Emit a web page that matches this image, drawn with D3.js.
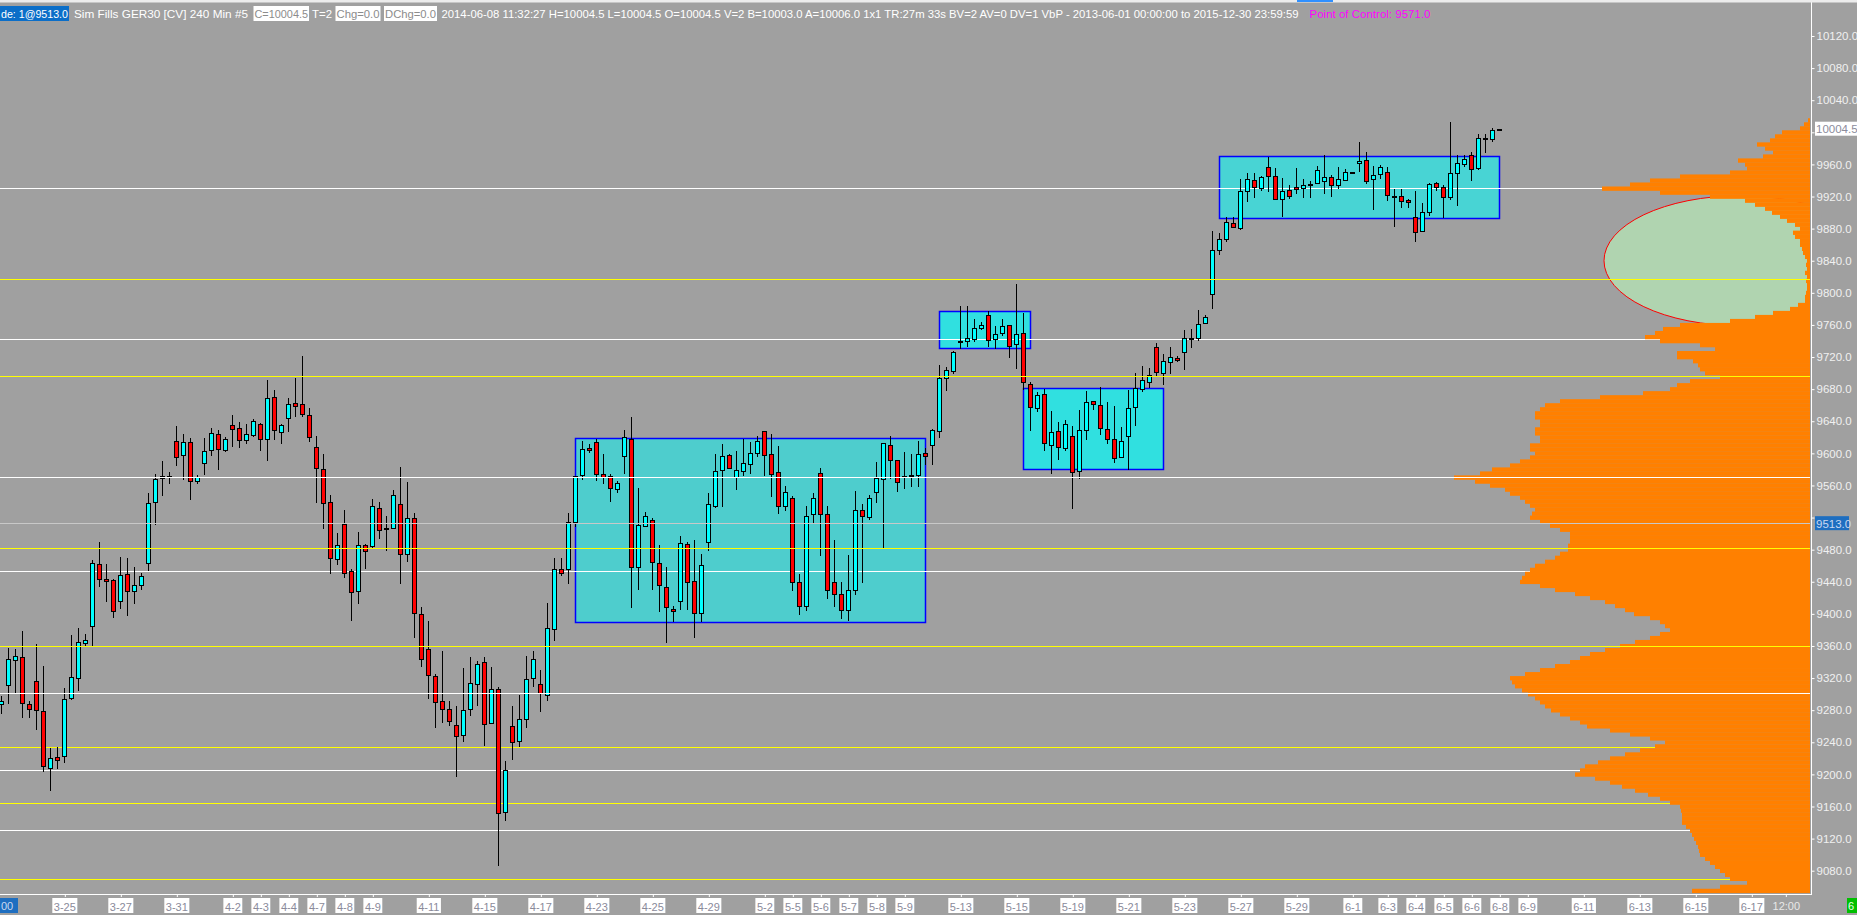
<!DOCTYPE html>
<html><head><meta charset="utf-8">
<script src="https://cdn.jsdelivr.net/npm/d3@7/dist/d3.min.js"></script>
<style>html,body{margin:0;padding:0;background:#a0a0a0;overflow:hidden}svg{display:block}</style>
</head><body>
<script>
// ---------------- DATA ----------------
const opens  = [9287.5,9311,9342,9346,9287.5,9316,9278.5,9208.5,9221.5,9223.5,9295,9319.5,9363.5,9385.5,9462,9443,9442,9416.5,9449.5,9428,9435.5,9463,9539,9569,9571.5,9615,9597.5,9614,9566,9587.5,9604,9624,9604,9635,9631.5,9616.5,9622.5,9636,9618.5,9670,9627,9643.5,9662.5,9661,9647.5,9608.5,9580,9539,9468,9511.5,9453,9428,9485.5,9484,9532.5,9506.5,9507,9536.5,9474,9519,9399.5,9356,9322.5,9291,9282,9261,9249,9282,9312.5,9340.5,9264,9306,9153,9260,9241,9268.5,9319.5,9312.5,9299.5,9381,9456.5,9456.5,9514,9573,9606.5,9614,9574,9571.5,9555.5,9596.5,9618.5,9459,9509,9517.5,9463,9434,9406.5,9415.5,9486.5,9440.5,9400.5,9490,9535,9579,9597.5,9570,9577.5,9586.5,9600,9627.5,9599,9576.5,9534,9544,9440,9410,9524,9575,9524,9440,9425,9405,9430,9529,9520.5,9551.5,9567.5,9611,9591.5,9572,9573.5,9572.5,9600,9611,9627.5,9694.5,9702,9740.5,9739.5,9742,9756,9772,9742,9749.5,9759.5,9736,9749.5,9687,9656,9673.5,9611,9627.5,9606.5,9621,9577.5,9628.5,9665,9660,9630,9618.5,9595,9621,9657.5,9680.5,9689.5,9732,9699.5,9713.5,9718.5,9726,9743.5,9743.5,9762,9798,9853,9866.5,9886.5,9880.5,9926.5,9940,9930,9956.5,9945,9916.5,9927.5,9931.5,9930,9936,9936.5,9939,9944,9934,9940,9950,9961.5,9965,9941.5,9947.5,9950,9921,9921,9915.5,9894,9876.5,9900.5,9936.5,9931.5,9920,9949,9960,9971.5,9955,9993.5,9991.5,10004.5];
const highs  = [9298,9357,9356,9378.5,9291,9362,9335,9233,9234,9307.5,9373.5,9383,9375.5,9466.5,9489.5,9462,9443.5,9471,9469.5,9458.5,9451,9550.5,9574,9591,9576.5,9634,9624.5,9619,9573,9619,9632,9629,9620.5,9648,9639,9637,9642.5,9637.5,9691,9679,9636.5,9668.5,9694,9721.5,9656.5,9621.5,9599,9548.5,9500.5,9529,9456.5,9502,9486.5,9543,9539,9522,9554,9583,9564.5,9525.5,9408,9391,9325,9354,9291.5,9285,9332.5,9346.5,9341,9346.5,9333.5,9309.5,9216.5,9285,9299.5,9347.5,9354,9330,9413.5,9469.5,9469.5,9525.5,9572,9615.5,9611.5,9618,9599,9574,9566,9628.5,9645.5,9557,9527,9519,9486,9458,9409.5,9496.5,9489.5,9491.5,9474,9550.5,9599,9611.5,9599,9602.5,9618.5,9614.5,9621.5,9627.5,9624,9609,9559,9546.5,9450,9535,9550,9581.5,9534,9492,9440,9473,9552.5,9536.5,9547.5,9589,9613.5,9621,9591.5,9601.5,9599,9616,9606.5,9630,9709.5,9707,9727,9783,9783,9768,9763.5,9777,9758.5,9768,9759.5,9811,9774.5,9688.5,9676,9680,9652.5,9638.5,9641,9633.5,9653.5,9677.5,9665,9682.5,9663.5,9658.5,9632.5,9678.5,9699.5,9708.5,9706,9737,9723.5,9732,9721,9753.5,9754.5,9778,9773,9877,9874,9894,9894,9941.5,9949,9949,9945,9969,9955,9942.5,9934,9955,9941.5,9939,9957.5,9971.5,9946.5,9956.5,9954,9950,9988,9975,9957.5,9959,9956.5,9929,9929,9917.5,9926.5,9911.5,9936.5,9937.5,9934,10013,9971.5,9971.5,9975,9998.5,9997.5,10005.5,10004.5];
const lows   = [9277,9289.5,9302,9272,9271,9257,9204,9180,9207.5,9216,9293.5,9305.5,9361.5,9360.5,9435,9415.5,9396.5,9407.5,9398,9413,9430.5,9455,9512.5,9548.5,9563,9586,9568.5,9543.5,9562.5,9574.5,9598.5,9580,9603,9609.5,9608,9612.5,9621.5,9604.5,9592,9618,9613.5,9628,9646,9647,9616,9540,9506.5,9451.5,9462.5,9446.5,9392.5,9414,9457.5,9481.5,9495,9480,9506.5,9439,9465.5,9371.5,9335.5,9295.5,9259.5,9265.5,9262,9197.5,9242,9274.5,9287,9236,9264,9086.5,9143.5,9219.5,9235.5,9259.5,9310.5,9279.5,9293,9368,9448,9439,9509,9568.5,9602,9567,9562.5,9541,9551.5,9576,9409,9431.5,9509,9431.5,9404,9365.5,9390.5,9406.5,9406.5,9371.5,9390.5,9479,9533,9534.5,9581.5,9556,9572.5,9576,9596.5,9573.5,9547,9525.5,9530,9430,9400,9405,9515,9473.5,9420,9410,9395,9392,9425,9440,9518,9539,9483.5,9569,9552.5,9556.5,9559,9559,9586.5,9586.5,9620,9678.5,9699.5,9731,9734,9739.5,9754.5,9734,9731,9747,9720.5,9706,9680,9628.5,9652.5,9604.5,9575,9592.5,9604,9531.5,9569.5,9618.5,9655,9623.5,9613.5,9589,9595,9580,9635,9678,9683,9696.5,9687,9700.5,9714.5,9704.5,9733,9741,9762,9781.5,9849,9864,9881.5,9879,9914,9920,9927.5,9926.5,9917.5,9896,9918.5,9924,9920,9920,9936.5,9925,9921,9930,9940,9950,9951.5,9936.5,9904,9942.5,9915.5,9883.5,9906.5,9907.5,9864,9876.5,9896.5,9927.5,9894,9916.5,9909,9957.5,9940,9954,9975,9989,10004.5];
const closes = [9291,9344,9347,9288.5,9281.5,9280,9210,9220,9217.5,9293.5,9321,9364.5,9368,9463,9443,9440.5,9403,9448.5,9428,9435.5,9447,9538,9567.5,9571.5,9571.5,9595,9614,9565.5,9570,9602.5,9625,9605,9618.5,9630,9616.5,9624,9640,9617.5,9668.5,9628.5,9635,9661,9659.5,9649,9620,9581.5,9538,9469,9485.5,9451.5,9427,9485.5,9478,9534,9505,9506.5,9548,9474,9519,9400.5,9343.5,9323.5,9290,9281.5,9266,9247.5,9280,9313.5,9337,9262.5,9306,9151.5,9206,9240,9268.5,9318.5,9343.5,9301,9382,9455.5,9450.5,9515,9571.5,9605,9604,9574,9570,9556.5,9562.5,9620,9458,9510.5,9521.5,9464.5,9435.5,9408,9404,9488,9439.5,9400.5,9460.5,9536.5,9577.5,9596.5,9581.5,9579,9587.5,9601,9615,9597.5,9574.5,9535,9551.5,9440,9410,9522.5,9544,9524,9430,9425,9405,9430,9529,9521.5,9544,9569,9613.5,9591.5,9564,9572,9573.5,9599,9596.5,9628.5,9693.5,9703.5,9726,9740.5,9743.5,9756,9759.5,9741,9748.5,9758.5,9733.5,9748.5,9688.5,9657.5,9672.5,9612.5,9626,9607.5,9636,9576.5,9628.5,9663.5,9661,9631,9617.5,9594,9616,9656,9681,9691,9697,9701,9714.5,9719.5,9716,9743.5,9743.5,9761,9769.5,9853,9866.5,9888,9881.5,9926.5,9941.5,9931.5,9944,9945,9917.5,9926.5,9921,9929,9934,9936,9952.5,9944,9934,9941.5,9950,9950,9964,9939,9946.5,9956.5,9921.5,9921,9914,9913,9875.5,9900.5,9935,9931.5,9919,9949,9961.5,9966.5,9954,9992.5,9991.5,10003.5,10004.5];

const dateLabels = ["3-25","3-27","3-31","4-2","4-3","4-4","4-7","4-8","4-9","4-11","4-15","4-17","4-23","4-25","4-29","5-2","5-5","5-6","5-7","5-8","5-9","5-13","5-15","5-19","5-21","5-23","5-27","5-29","6-1","6-3","6-4","6-5","6-6","6-8","6-9","6-11","6-13","6-15","6-17"];
const dateBarIndex = [9,17,25,33,37,41,45,49,53,61,69,77,85,93,101,109,113,117,121,125,129,137,145,153,161,169,177,185,193,198,202,206,210,214,218,226,234,242,250];
const timeLabel = "12:00", timeBarIndex = 255;

const priceTicks = [9080,9120,9160,9200,9240,9280,9320,9360,9400,9440,9480,9520,9560,9600,9640,9680,9720,9760,9800,9840,9880,9920,9960,10000,10040,10080,10120];
const hiddenTicks = [9520,10000]; // covered by price markers

const whiteLinesOver  = [9571,9301];
const yellowLinesOver = [9817,9696,9482,9360];
const whiteLinesUnder = [9930,9743,9453,9206,9131];
const yellowLinesUnder= [9234,9164,9070];
const lastTradePrice = 9513, lastPrice = 10004.5;

const boxStartBar = [82,134,146,174];
const boxEndBar   = [132,147,166,214];
const boxHigh     = [9619,9777,9681,9971];
const boxLow      = [9390,9731,9580,9893];
const boxColors   = ["#4ecdcd","#30e0e0","#30e0e0","#48d4d4"];

// volume profile: 5-point bins from 10015 down to 9055
const profileTop = 10015, profileStep = 5;
const profileVolume = [2,6,10,28,35,40,53,45,37,47,72,65,63,80,130,160,180,208,150,100,65,55,45,38,30,23,15,10,17,15,10,10,8,7,5,3,4,3,5,3,4,3,3,4,5,5,12,20,37,55,80,130,147,155,165,150,110,95,133,133,117,112,110,105,90,120,133,140,167,210,250,
  265,270,275,275,270,270,275,275,270,270,280,280,275,280,290,300,318,330,356,335,320,305,300,290,285,280,275,278,280,270,260,250,240,240,240,242,242,250,255,265,275,280,285,288,290,270,255,235,220,205,195,185,176,160,150,145,140,150,160,175,190,205,220,230,240,255,270,285,300,298,295,288,282,275,270,265,259,250,240,230,223,200,180,160,145,155,170,185,200,212,225,230,235,215,200,188,175,162,150,140,130,129,128,128,128,124,120,118,116,114,112,111,110,105,100,95,90,85,80,63,90,118];
const ellipseCenterPrice = 9840, ellipseHalfSpan = 81, ellipseLeftVol = 206, ellipseCenterVol = 70;

const headerParts = [
  {t:"de: 1@9513.0", bg:"#0b6ec8", c:"#ffffff"},
  {t:"Sim Fills  GER30 [CV]  240 Min   #5", bg:null, c:"#ffffff"},
  {t:"C=10004.5", bg:"#ffffff", c:"#8c8c8c"},
  {t:"T=2", bg:null, c:"#ffffff"},
  {t:"Chg=0.0", bg:"#ffffff", c:"#8c8c8c"},
  {t:"DChg=0.0", bg:"#ffffff", c:"#8c8c8c"},
  {t:"2014-06-08 11:32:27 H=10004.5 L=10004.5 O=10004.5 V=2 B=10003.0 A=10006.0 1x1 TR:27m 33s BV=2 AV=0 DV=1  VbP - 2013-06-01  00:00:00 to 2015-12-30  23:59:59", bg:null, c:"#ffffff"},
  {t:"Point of Control: 9571.0", bg:null, c:"#ff00ff"}
];
const headerX = [0,73,253.5,311,335.5,384,440.5,1308.5];
const headerW = [69,176,55.5,22,45,53,859,123];

// ---------------- LAYOUT ----------------
const W=1857,H=915, plotR=1810, plotB=894;
const FONT = "'Liberation Sans', Arial, sans-serif";
const svg = d3.select("body").append("svg").attr("width",W).attr("height",H);
svg.append("rect").attr("width",W).attr("height",H).attr("fill","#a0a0a0");

const x = d3.scaleLinear().domain([0,1]).range([1.33,8.33]);
const y = d3.scaleLinear().domain([9080,10120]).range([870.7,36]);
const xv = d3.scaleLinear().domain([0,356]).range([plotR, plotR-356]);

svg.append("clipPath").attr("id","plot").append("rect").attr("x",0).attr("y",0).attr("width",plotR).attr("height",plotB);
const g = svg.append("g").attr("clip-path","url(#plot)");

// ellipse
g.append("ellipse")
  .attr("cx", xv(ellipseCenterVol)).attr("cy", y(ellipseCenterPrice))
  .attr("rx", xv(ellipseCenterVol)-xv(ellipseLeftVol))
  .attr("ry", y(ellipseCenterPrice-ellipseHalfSpan)-y(ellipseCenterPrice))
  .attr("fill","#b0d4b0").attr("stroke","#ff0000").attr("stroke-width",1);

// boxes
const boxIdx = d3.range(boxStartBar.length);
g.selectAll("rect.box").data(boxIdx).join("rect").attr("class","box")
  .attr("x", i=>Math.round(x(boxStartBar[i]))+0.5)
  .attr("y", i=>Math.round(y(boxHigh[i]))+0.5)
  .attr("width", i=>Math.round(x(boxEndBar[i]))-Math.round(x(boxStartBar[i])))
  .attr("height", i=>Math.round(y(boxLow[i]))-Math.round(y(boxHigh[i])))
  .attr("fill", i=>boxColors[i]).attr("stroke","#0000ff").attr("stroke-width",1.5);

function hline(sel, prices, color){
  sel.selectAll(null).data(prices).join("line")
    .attr("x1",0).attr("x2",plotR)
    .attr("y1",d=>Math.round(y(d))+0.5).attr("y2",d=>Math.round(y(d))+0.5)
    .attr("stroke",color).attr("stroke-width",1);
}
hline(g, whiteLinesUnder, "#ffffff");
hline(g, yellowLinesUnder, "#ffff00");

hline(g, [lastTradePrice], "#c8c8c8");
g.selectAll(null).data(boxIdx.filter(i=>boxLow[i]<lastTradePrice && boxHigh[i]>lastTradePrice)).join("line")
  .attr("x1",i=>x(boxStartBar[i])+1).attr("x2",i=>x(boxEndBar[i])-1)
  .attr("y1",Math.round(y(lastTradePrice))+0.5).attr("y2",Math.round(y(lastTradePrice))+0.5)
  .attr("stroke","#2a9a9a");

// candles
const bars = d3.range(opens.length);
const cg = g.append("g");
cg.selectAll("line.wick").data(bars).join("line").attr("class","wick")
  .attr("x1",k=>Math.floor(x(k))+0.5).attr("x2",k=>Math.floor(x(k))+0.5)
  .attr("y1",k=>Math.round(y(highs[k]))).attr("y2",k=>Math.round(y(lows[k]))+1)
  .attr("stroke","#000").attr("stroke-width",1);
cg.selectAll("rect.body").data(bars).join("rect").attr("class","body")
  .attr("x",k=>Math.floor(x(k))-1.5)
  .attr("y",k=>Math.round(y(Math.max(opens[k],closes[k])))+0.5)
  .attr("width",4)
  .attr("height",k=>Math.max(1,Math.round(y(Math.min(opens[k],closes[k])))-Math.round(y(Math.max(opens[k],closes[k])))))
  .attr("fill",k=>closes[k]>opens[k]?"#00ffff":(closes[k]<opens[k]?"#ff0000":"#000"))
  .attr("stroke","#000").attr("stroke-width",1);

// volume profile
const pIdx = d3.range(profileVolume.length);
const binPrice = i => profileTop - i*profileStep;
g.selectAll("rect.vp").data(pIdx).join("rect").attr("class","vp")
  .attr("x",i=>xv(profileVolume[i]))
  .attr("y",i=>y(binPrice(i)+profileStep/2))
  .attr("width",i=>plotR-xv(profileVolume[i]))
  .attr("height",i=>y(binPrice(i)-profileStep/2)-y(binPrice(i)+profileStep/2)+0.3)
  .attr("fill","#ff8000");

hline(g, whiteLinesOver, "#ffffff");
hline(g, yellowLinesOver, "#ffff00");
hline(g, [lastTradePrice], "#c8c8c8");

// ---------------- AXES ----------------
const yAxis = d3.axisRight(y).tickValues(priceTicks).tickFormat(d=>d.toFixed(1)).tickSize(3).tickPadding(2);
const ya = svg.append("g").attr("transform",`translate(${plotR+1.5},0)`).call(yAxis);
ya.select(".domain").remove();
ya.selectAll(".tick line").attr("stroke","#ffffff");
ya.selectAll(".tick text").attr("fill","#f0f0f0").style("font-family",FONT).style("font-size","11.5px")
  .attr("opacity",d=>hiddenTicks.includes(d)?0:1);
svg.append("line").attr("x1",plotR+1.5).attr("x2",plotR+1.5).attr("y1",0).attr("y2",plotB+1).attr("stroke","#fff");

function marker(price, bg, fg){
  const yy = y(price);
  svg.append("rect").attr("x",plotR+5).attr("y",yy-7).attr("width",bg==="#ffffff"?42:34).attr("height",14).attr("fill",bg);
  svg.append("text").attr("x",plotR+6).attr("y",yy+4.5).text(price.toFixed(1))
    .attr("fill",fg).style("font-family",FONT).style("font-size","11.5px");
}
marker(lastPrice,"#ffffff","#8c8c9c");
marker(lastTradePrice,"#1e6ec0","#c8d8f0");

// bottom axis
const xa = svg.append("g").attr("transform",`translate(0,${plotB})`);
xa.append("line").attr("x1",0).attr("x2",plotR+1).attr("y1",0.5).attr("y2",0.5).attr("stroke","#fff");
const xAxis = d3.axisBottom(x).tickValues(dateBarIndex).tickFormat((d,i)=>dateLabels[i]).tickSize(3).tickPadding(6);
const xg = xa.append("g").call(xAxis);
xg.select(".domain").remove();
xg.selectAll(".tick line").attr("stroke","#fff").attr("transform","translate(0.5,0)");
xg.selectAll(".tick text").attr("fill","#8a8a9a").style("font-family",FONT).style("font-size","11px");
xg.selectAll(".tick").each(function(){
  const t = d3.select(this).select("text");
  const bb = t.node().getBBox();
  d3.select(this).insert("rect","text").attr("x",bb.x-1.5).attr("y",4).attr("width",bb.width+3).attr("height",15).attr("fill","#fff");
});
xa.append("line").attr("x1",x(timeBarIndex)).attr("x2",x(timeBarIndex)).attr("y1",0).attr("y2",3).attr("stroke","#fff");
xa.append("text").attr("x",x(timeBarIndex)).attr("y",16).attr("text-anchor","middle").text(timeLabel)
  .attr("fill","#e8e8e8").style("font-family",FONT).style("font-size","11px");
xa.append("rect").attr("x",0).attr("y",4).attr("width",18).attr("height",15).attr("fill","#1e6ec0");
xa.append("text").attr("x",1).attr("y",16).text("00").attr("fill","#c8d8f0").style("font-family",FONT).style("font-size","11px");
xa.append("rect").attr("x",1847).attr("y",4).attr("width",10).attr("height",15).attr("fill","#00c000");
xa.append("text").attr("x",1848).attr("y",16).text("6").attr("fill","#e8ffe8").style("font-family",FONT).style("font-size","11px");

// ---------------- HEADER ----------------
svg.append("rect").attr("x",0).attr("y",0).attr("width",W).attr("height",2.5).attr("fill","#ececec");
svg.append("rect").attr("x",1297).attr("y",0).attr("width",36).attr("height",2).attr("fill","#3090ff");
headerParts.forEach((p,i)=>{
  if(p.bg) svg.append("rect").attr("x",headerX[i]).attr("y",6).attr("width",headerW[i]).attr("height",15).attr("fill",p.bg);
  svg.append("text").attr("x",headerX[i]+1).attr("y",18).text(p.t).attr("fill",p.c)
    .attr("textLength",headerW[i]-2).attr("lengthAdjust","spacingAndGlyphs")
    .style("font-family",FONT).style("font-size","11.5px");
});
</script>
</body></html>
